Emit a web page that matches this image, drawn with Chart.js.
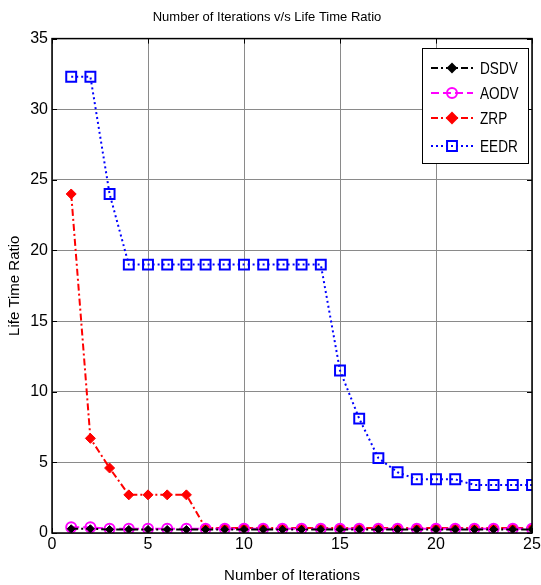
<!DOCTYPE html>
<html>
<head>
<meta charset="utf-8">
<script src="https://cdn.jsdelivr.net/npm/chart.js@4/dist/chart.umd.min.js"></script>
<style>
  body { margin:0; background:#fff; }
  #wrap { width:541px; height:585px; }
</style>
</head>
<body>
<div id="wrap"><canvas id="myChart" width="541" height="585"></canvas></div>
<script>
// 데이터 ------------------------------------------------------------
const iterations = [1,2,3,4,5,6,7,8,9,10,11,12,13,14,15,16,17,18,19,20,21,22,23,24,25];
const dsdv = [0.3,0.3,0.25,0.25,0.25,0.25,0.25,0.25,0.25,0.25,0.25,0.25,0.25,0.25,0.25,0.25,0.25,0.25,0.25,0.25,0.25,0.25,0.25,0.25,0.25];
const aodv = [0.4,0.4,0.3,0.3,0.3,0.3,0.3,0.3,0.3,0.3,0.3,0.3,0.3,0.3,0.3,0.3,0.3,0.3,0.3,0.3,0.3,0.3,0.3,0.3,0.3];
const zrp  = [24,6.7,4.6,2.7,2.7,2.7,2.7,0.35,0.35,0.35,0.35,0.35,0.35,0.35,0.35,0.35,0.35,0.35,0.35,0.35,0.35,0.35,0.35,0.35,0.35];
const eedr = [32.3,32.3,24,19,19,19,19,19,19,19,19,19,19,19,11.5,8.1,5.3,4.3,3.8,3.8,3.8,3.4,3.4,3.4,3.4];
const xTicks = [0,5,10,15,20,25];
const yTicks = [0,5,10,15,20,25,30,35];

const FONT = "'Liberation Sans', Arial, sans-serif";

const toXY = (arr) => arr.map((v,i) => ({ x: iterations[i], y: v }));

const series = [
  { label:'DSDV', data: toXY(dsdv), borderColor:'#000', backgroundColor:'#000', borderDash:[7,3,2,3], pointStyle:'rectRot', pointRadius:4, borderWidth:2, pointBorderWidth:1 },
  { label:'AODV', data: toXY(aodv), borderColor:'#ff00ff', backgroundColor:'rgba(0,0,0,0)', borderDash:[8,4], pointStyle:'circle', pointRadius:5, borderWidth:2, pointBorderWidth:2 },
  { label:'ZRP',  data: toXY(zrp),  borderColor:'#ff0000', backgroundColor:'#ff0000', borderDash:[7,3,2,3], pointStyle:'rectRot', pointRadius:5, borderWidth:2, pointBorderWidth:1 },
  { label:'EEDR', data: toXY(eedr), borderColor:'#0000ff', backgroundColor:'rgba(0,0,0,0)', borderDash:[2,3], pointStyle:'rect', pointRadius:7, borderWidth:2, pointBorderWidth:2 }
];

// 박스 + 안쪽 눈금 + 범례 그리기
const framePlugin = {
  id:'frame',
  afterDatasetsDraw(chart){
    const c = chart.ctx, a = chart.chartArea;
    const xs = chart.scales.x, ys = chart.scales.y;
    c.save();
    c.strokeStyle = '#000'; c.lineWidth = 1.5;
    c.strokeRect(a.left, a.top, a.right - a.left, a.bottom - a.top);
    c.lineWidth = 1;
    xTicks.forEach(t => {
      const px = Math.round(xs.getPixelForValue(t)) + 0.5;
      c.beginPath(); c.moveTo(px, a.bottom); c.lineTo(px, a.bottom - 5); c.stroke();
      c.beginPath(); c.moveTo(px, a.top); c.lineTo(px, a.top + 5); c.stroke();
    });
    yTicks.forEach(t => {
      const py = Math.round(ys.getPixelForValue(t)) + 0.5;
      c.beginPath(); c.moveTo(a.left, py); c.lineTo(a.left + 5, py); c.stroke();
      c.beginPath(); c.moveTo(a.right, py); c.lineTo(a.right - 5, py); c.stroke();
    });

    // 범례
    const lx = 422, ly = 48, lw = 106, lh = 115;
    c.fillStyle = '#fff';
    c.fillRect(lx, ly, lw, lh);
    c.strokeStyle = '#000'; c.lineWidth = 1;
    c.strokeRect(lx + 0.5, ly + 0.5, lw, lh);
    const rows = [68, 93, 118, 146];
    series.forEach((s, i) => {
      const y = rows[i];
      c.strokeStyle = s.borderColor; c.lineWidth = 2;
      c.setLineDash(s.borderDash);
      c.beginPath(); c.moveTo(431, y); c.lineTo(473, y); c.stroke();
      c.setLineDash([]);
      c.fillStyle = s.backgroundColor;
      Chart.helpers.drawPoint(c, { pointStyle:s.pointStyle, radius:s.pointRadius, borderWidth:s.pointBorderWidth, rotation:0 }, 452, y);
      if (s.backgroundColor !== 'rgba(0,0,0,0)') c.fill();
      // 좁은 글꼴 흉내 (가로로 줄임)
      c.save();
      c.translate(480, y + 1);
      c.scale(0.8, 1);
      c.fillStyle = '#000';
      c.font = '17px ' + FONT;
      c.textBaseline = 'middle';
      c.fillText(s.label, 0, 0);
      c.restore();
    });
    c.restore();
  }
};

new Chart(document.getElementById('myChart'), {
  type:'line',
  data:{ datasets: series.map(s => Object.assign({}, s, { fill:false, tension:0, pointBackgroundColor:s.backgroundColor, pointBorderColor:s.borderColor })) },
  options:{
    responsive:false,
    animation:false,
    layout:{ padding:{ top:0, right:7, left:0, bottom:0 } },
    plugins:{
      legend:{ display:false },
      tooltip:{ enabled:false },
      title:{ display:true, text:'Number of Iterations v/s Life Time Ratio', color:'#000', font:{ family:FONT, size:13, weight:'normal' }, padding:{ top:10, bottom:13 } }
    },
    scales:{
      x:{
        type:'linear', min:0, max:25,
        afterBuildTicks: (s) => { s.ticks = xTicks.map(v => ({ value:v })); },
        afterFit: (s) => { s.height = 52; s.paddingRight = 0; s.paddingLeft = 0; },
        ticks:{ color:'#000', font:{ family:FONT, size:16 }, padding:2, maxRotation:0 },
        grid:{ color:'#8a8a8a', lineWidth:1, drawTicks:false },
        border:{ display:false },
        title:{ display:true, text:'Number of Iterations', color:'#000', font:{ family:FONT, size:15 }, padding:{ top:4, bottom:0 } }
      },
      y:{
        type:'linear', min:0, max:35,
        afterBuildTicks: (s) => { s.ticks = yTicks.map(v => ({ value:v })); },
        afterFit: (s) => { s.width = 52; s.paddingTop = 0; s.paddingBottom = 0; },
        ticks:{ color:'#000', font:{ family:FONT, size:16 }, padding:4 },
        grid:{ color:'#8a8a8a', lineWidth:1, drawTicks:false },
        border:{ display:false },
        title:{ display:true, text:'Life Time Ratio', color:'#000', font:{ family:FONT, size:15 }, padding:{ top:6, bottom:2 } }
      }
    }
  },
  plugins:[framePlugin]
});
</script>
</body>
</html>
